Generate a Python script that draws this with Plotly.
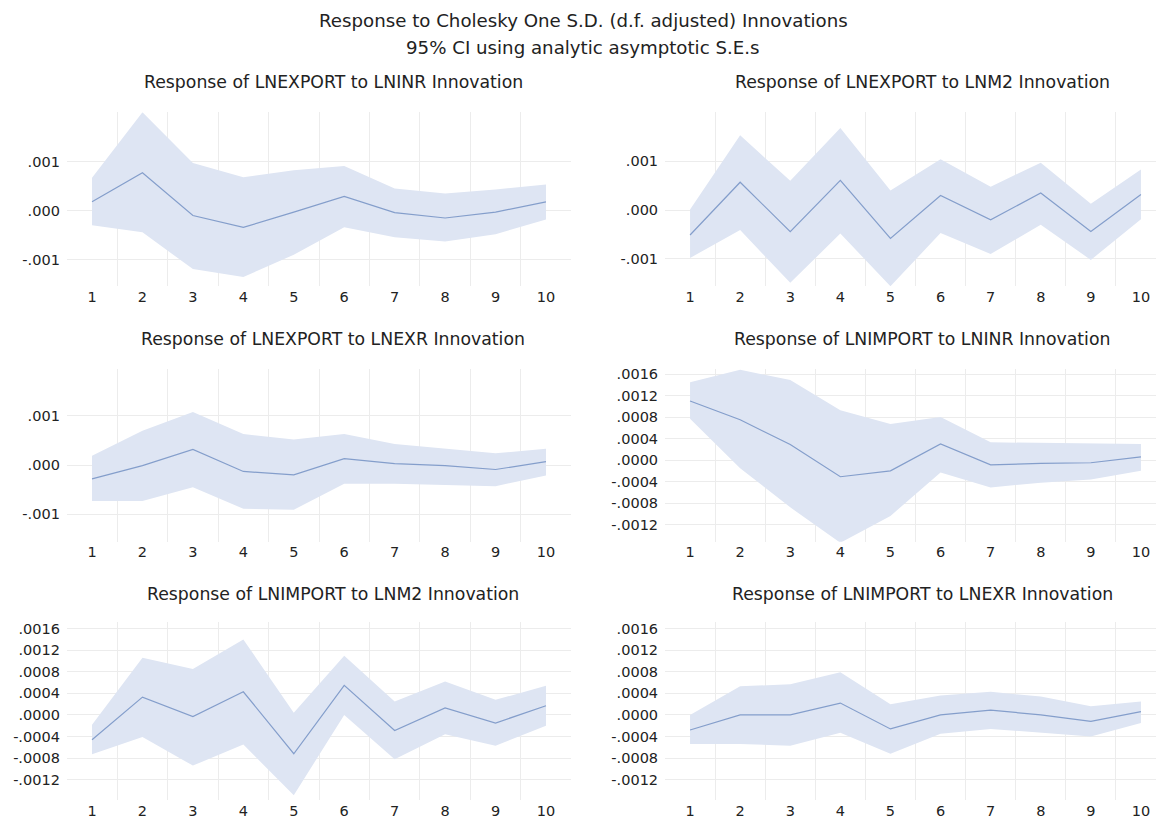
import plotly.graph_objects as go

# The page body has a default 8px margin; all pixel positions below are page pixels.
OFF = 8
PAGE_W, PAGE_H = 1164, 819
W, H = PAGE_W - OFF, PAGE_H - OFF

periods = list(range(1, 11))

titles = [
    "Response of LNEXPORT to LNINR Innovation",
    "Response of LNEXPORT to LNM2 Innovation",
    "Response of LNEXPORT to LNEXR Innovation",
    "Response of LNIMPORT to LNINR Innovation",
    "Response of LNIMPORT to LNM2 Innovation",
    "Response of LNIMPORT to LNEXR Innovation",
]

# Panel 1: LNEXPORT <- LNINR
p1_resp = [0.00018, 0.00077, -0.00010, -0.00034, -0.00003, 0.00029, -0.00004, -0.00015, -0.00003, 0.00018]
p1_up = [0.00067, 0.00200, 0.00097, 0.00068, 0.00082, 0.00091, 0.00045, 0.00035, 0.00043, 0.00053]
p1_lo = [-0.00030, -0.00044, -0.00119, -0.00135, -0.00090, -0.00034, -0.00054, -0.00063, -0.00048, -0.00018]

# Panel 2: LNEXPORT <- LNM2
p2_resp = [-0.00051, 0.00057, -0.00044, 0.00061, -0.00058, 0.00030, -0.00020, 0.00035, -0.00044, 0.00032]
p2_up = [0.00001, 0.00153, 0.00060, 0.00168, 0.00040, 0.00104, 0.00048, 0.00097, 0.00013, 0.00083]
p2_lo = [-0.00098, -0.00041, -0.00149, -0.00048, -0.00156, -0.00047, -0.00090, -0.00030, -0.00102, -0.00019]

# Panel 3: LNEXPORT <- LNEXR
p3_resp = [-0.00028, -0.00001, 0.00032, -0.00013, -0.00020, 0.00013, 0.00003, -0.00001, -0.00009, 0.00007]
p3_up = [0.00019, 0.00070, 0.00108, 0.00063, 0.00052, 0.00063, 0.00043, 0.00034, 0.00024, 0.00033]
p3_lo = [-0.00073, -0.00073, -0.00045, -0.00089, -0.00091, -0.00038, -0.00038, -0.00040, -0.00043, -0.00021]

# Panel 4: LNIMPORT <- LNINR
p4_resp = [0.00110, 0.00075, 0.00029, -0.00031, -0.00020, 0.00030, -0.00009, -0.00006, -0.00005, 0.00006]
p4_up = [0.00145, 0.00168, 0.00149, 0.00093, 0.00067, 0.00080, 0.00033, 0.00032, 0.00030, 0.00030]
p4_lo = [0.00077, -0.00015, -0.00088, -0.00154, -0.00104, -0.00023, -0.00051, -0.00042, -0.00036, -0.00020]

# Panel 5: LNIMPORT <- LNM2
p5_resp = [-0.00046, 0.00033, -0.00003, 0.00043, -0.00072, 0.00055, -0.00029, 0.00013, -0.00015, 0.00017]
p5_up = [-0.00018, 0.00106, 0.00085, 0.00140, 0.00004, 0.00110, 0.00025, 0.00062, 0.00028, 0.00054]
p5_lo = [-0.00073, -0.00041, -0.00094, -0.00055, -0.00149, 0.00000, -0.00082, -0.00036, -0.00057, -0.00020]

# Panel 6: LNIMPORT <- LNEXR
p6_resp = [-0.00028, 0.00000, 0.00000, 0.00022, -0.00026, 0.00000, 0.00009, 0.00000, -0.00012, 0.00006]
p6_up = [0.00000, 0.00053, 0.00057, 0.00079, 0.00020, 0.00036, 0.00043, 0.00034, 0.00016, 0.00025]
p6_lo = [-0.00054, -0.00054, -0.00057, -0.00033, -0.00072, -0.00035, -0.00026, -0.00033, -0.00040, -0.00015]

ticks3_vals = [-0.001, 0.0, 0.001]
ticks3_text = ["-.001", ".000", ".001"]
ticks8_vals = [-0.0012, -0.0008, -0.0004, 0.0, 0.0004, 0.0008, 0.0012, 0.0016]
ticks8_text = ["-.0012", "-.0008", "-.0004", ".0000", ".0004", ".0008", ".0012", ".0016"]

panels = [
    (p1_resp, p1_up, p1_lo, ticks3_vals, ticks3_text, [-0.00154, 0.00200]),
    (p2_resp, p2_up, p2_lo, ticks3_vals, ticks3_text, [-0.00156, 0.00200]),
    (p3_resp, p3_up, p3_lo, ticks3_vals, ticks3_text, [-0.00156, 0.00196]),
    (p4_resp, p4_up, p4_lo, ticks8_vals, ticks8_text, [-0.00152, 0.00170]),
    (p5_resp, p5_up, p5_lo, ticks8_vals, ticks8_text, [-0.00158, 0.00172]),
    (p6_resp, p6_up, p6_lo, ticks8_vals, ticks8_text, [-0.00158, 0.00172]),
]

# layout in page pixels
col_px = [(66.8, 571.2, [0.5, 10.5]), (665.0, 1164.0, [0.5, 10.46])]
row_px = [(110, 285), (368, 542), (623, 802)]
title_y_px = [79, 338, 595]
title_x_px = [333, 922]


def px_x(p):
    return (p - OFF) / W


def px_y(p):
    return 1 - (p - OFF) / H


FONT = "DejaVu Sans"
TXT = "#222222"
FILL = "rgba(222,229,243,1)"
LINE = "#849ecb"
GRID = "#ececec"

fig = go.Figure()
annotations = []
for i, (resp, up, lo, tv, tt, yr) in enumerate(panels):
    r, c = divmod(i, 2)
    n = i + 1
    xa = "x" if n == 1 else f"x{n}"
    ya = "y" if n == 1 else f"y{n}"
    fig.add_trace(go.Scatter(x=periods, y=lo, mode="lines", line=dict(width=0, color=FILL),
                             xaxis=xa, yaxis=ya, showlegend=False, hoverinfo="skip"))
    fig.add_trace(go.Scatter(x=periods, y=up, mode="lines", line=dict(width=0, color=FILL),
                             fill="tonexty", fillcolor=FILL,
                             xaxis=xa, yaxis=ya, showlegend=False, hoverinfo="skip"))
    fig.add_trace(go.Scatter(x=periods, y=resp, mode="lines", line=dict(width=1.2, color=LINE),
                             xaxis=xa, yaxis=ya, showlegend=False))
    x0, x1, xr = col_px[c]
    y0, y1 = row_px[r]
    xkey = "xaxis" if n == 1 else f"xaxis{n}"
    ykey = "yaxis" if n == 1 else f"yaxis{n}"
    fig.update_layout(**{
        xkey: dict(domain=[max(0, px_x(x0)), min(1, px_x(x1))], range=xr, anchor=ya,
                   tickmode="array", tickvals=periods, ticktext=[str(p) for p in periods],
                   showgrid=False, zeroline=False, showline=False,
                   ticks="", tickfont=dict(family=FONT, size=14.5, color=TXT),
                   minor=dict(tickvals=[k + 0.5 for k in range(1, 10)], showgrid=True,
                              gridcolor=GRID, gridwidth=1, ticks="")),
        ykey: dict(domain=[px_y(y1), px_y(y0)], range=yr, anchor=xa,
                   tickmode="array", tickvals=tv, ticktext=tt,
                   showgrid=True, gridcolor=GRID, gridwidth=1, zeroline=False, showline=False,
                   ticks="outside", ticklen=3, tickcolor="rgba(0,0,0,0)",
                   tickfont=dict(family=FONT, size=14.5, color=TXT)),
    })
    annotations.append(dict(text=titles[i], x=px_x(title_x_px[c]), y=px_y(title_y_px[r]),
                            xref="paper", yref="paper", xanchor="center", yanchor="middle",
                            showarrow=False, font=dict(family=FONT, size=17.3, color=TXT)))

annotations.append(dict(text="Response to Cholesky One S.D. (d.f. adjusted) Innovations",
                        x=px_x(583), y=px_y(18), xref="paper", yref="paper",
                        xanchor="center", yanchor="middle", showarrow=False,
                        font=dict(family=FONT, size=18.2, color=TXT)))
annotations.append(dict(text="95% CI using analytic asymptotic S.E.s",
                        x=px_x(583), y=px_y(45), xref="paper", yref="paper",
                        xanchor="center", yanchor="middle", showarrow=False,
                        font=dict(family=FONT, size=18.2, color=TXT)))

fig.update_layout(width=W, height=H, margin=dict(l=0, r=0, t=0, b=0),
                  paper_bgcolor="white", plot_bgcolor="white",
                  annotations=annotations, showlegend=False)

fig.write_html("out.html")
